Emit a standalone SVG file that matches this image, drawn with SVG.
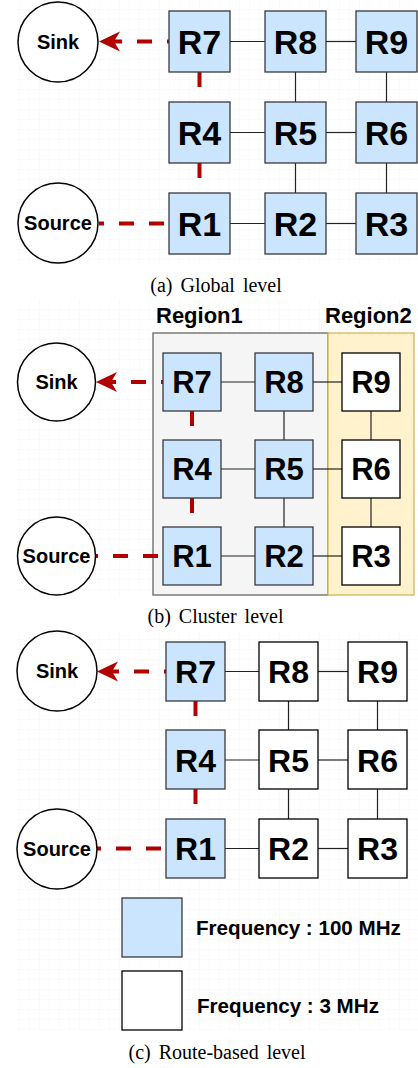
<svg xmlns="http://www.w3.org/2000/svg" width="418" height="1068" viewBox="0 0 418 1068">
<style>
.bg{fill:url(#grid)}
.nb{fill:#cce5ff;stroke:#36393d;stroke-width:1.3}
.nw{fill:#ffffff;stroke:#000000;stroke-width:1.3}
.circ{fill:#ffffff;stroke:#000000;stroke-width:1.5}
.lbl{font-family:"Liberation Sans",Arial,Helvetica,sans-serif;font-weight:bold;fill:#000;text-anchor:middle}
.big-a{font-size:34px}
.big-b{font-size:31px}
.big-c{font-size:32px}
.sm{font-size:20px}
.cap{font-family:"Liberation Serif","Times New Roman",serif;font-size:20px;fill:#000;text-anchor:middle;word-spacing:3px}
.ln{stroke:#222;stroke-width:1.2;fill:none}
.rd{stroke:#b20000;stroke-width:4;fill:none;stroke-dasharray:15 15}
.leg{font-family:"Liberation Sans",Arial,Helvetica,sans-serif;font-weight:bold;font-size:20.6px;fill:#000}
</style>
<defs>
<pattern id="grid" width="10" height="10" patternUnits="userSpaceOnUse">
<path d="M10 0 V10 M0 10 H10" stroke="#f4f4f4" stroke-width="1" fill="none"/>
</pattern>
<marker id="arr" markerUnits="userSpaceOnUse" markerWidth="22" markerHeight="22" viewBox="0 0 22 22" refX="6" refY="11" orient="auto">
<path d="M0,1 L21,11 L0,21 L6,11 Z" fill="#b20000"/>
</marker>
</defs>
<rect width="418" height="1068" fill="#ffffff"/>
<rect class="bg" x="17" y="0" width="401" height="265"/>
<rect class="bg" x="17" y="300" width="401" height="296"/>
<rect class="bg" x="17" y="630" width="401" height="400"/>

<!-- Panel (a) -->
<g id="connectors-a">
<line class="ln" x1="230" y1="41.5" x2="265" y2="41.5"/>
<line class="ln" x1="326" y1="41.5" x2="356" y2="41.5"/>
<line class="ln" x1="230" y1="132.5" x2="265" y2="132.5"/>
<line class="ln" x1="326" y1="132.5" x2="356" y2="132.5"/>
<line class="ln" x1="230" y1="223.5" x2="265" y2="223.5"/>
<line class="ln" x1="326" y1="223.5" x2="356" y2="223.5"/>
<line class="ln" x1="295.5" y1="72" x2="295.5" y2="102"/>
<line class="ln" x1="295.5" y1="163" x2="295.5" y2="193"/>
<line class="ln" x1="386.5" y1="72" x2="386.5" y2="102"/>
<line class="ln" x1="386.5" y1="163" x2="386.5" y2="193"/>
<line class="rd" x1="199.5" y1="72" x2="199.5" y2="102"/>
<line class="rd" x1="199.5" y1="163" x2="199.5" y2="193"/>
<line class="rd" x1="169" y1="223.5" x2="99" y2="223.5" stroke-dashoffset="-5"/>
<line class="rd" x1="169" y1="41.5" x2="114" y2="41.5" marker-end="url(#arr)" stroke-dashoffset="13"/>
</g>
<g id="a-sink"><circle class="circ" cx="58" cy="42" r="40"/><text class="lbl sm" x="58" y="49">Sink</text></g>
<g id="a-source"><circle class="circ" cx="58" cy="223" r="40"/><text class="lbl sm" x="58" y="230">Source</text></g>
<g id="a-R7"><rect class="nb" x="169" y="11" width="61" height="61"/><text class="lbl big-a" x="199.5" y="53.5">R7</text></g>
<g id="a-R8"><rect class="nb" x="265" y="11" width="61" height="61"/><text class="lbl big-a" x="295.5" y="53.5">R8</text></g>
<g id="a-R9"><rect class="nb" x="356" y="11" width="61" height="61"/><text class="lbl big-a" x="386.5" y="53.5">R9</text></g>
<g id="a-R4"><rect class="nb" x="169" y="102" width="61" height="61"/><text class="lbl big-a" x="199.5" y="144.5">R4</text></g>
<g id="a-R5"><rect class="nb" x="265" y="102" width="61" height="61"/><text class="lbl big-a" x="295.5" y="144.5">R5</text></g>
<g id="a-R6"><rect class="nb" x="356" y="102" width="61" height="61"/><text class="lbl big-a" x="386.5" y="144.5">R6</text></g>
<g id="a-R1"><rect class="nb" x="169" y="193" width="61" height="61"/><text class="lbl big-a" x="199.5" y="235.5">R1</text></g>
<g id="a-R2"><rect class="nb" x="265" y="193" width="61" height="61"/><text class="lbl big-a" x="295.5" y="235.5">R2</text></g>
<g id="a-R3"><rect class="nb" x="356" y="193" width="61" height="61"/><text class="lbl big-a" x="386.5" y="235.5">R3</text></g>
<text class="cap" x="216" y="292">(a) Global level</text>

<!-- Panel (b) -->
<g id="region1"><rect x="153" y="333" width="175" height="262" fill="#f5f5f5" stroke="#666666" stroke-width="1.3"/>
<text class="lbl" x="156" y="323" style="font-size:22px;text-anchor:start">Region1</text></g>
<g id="region2"><rect x="328" y="333" width="86" height="262" fill="#fff2cc" stroke="#d6b656" stroke-width="1.3"/>
<text class="lbl" x="325" y="323" style="font-size:22px;text-anchor:start">Region2</text></g>
<g id="connectors-b">
<line class="ln" x1="221" y1="382" x2="255" y2="382"/>
<line class="ln" x1="313" y1="382" x2="342" y2="382"/>
<line class="ln" x1="221" y1="469" x2="255" y2="469"/>
<line class="ln" x1="313" y1="469" x2="342" y2="469"/>
<line class="ln" x1="221" y1="556" x2="255" y2="556"/>
<line class="ln" x1="313" y1="556" x2="342" y2="556"/>
<line class="ln" x1="284" y1="411" x2="284" y2="440"/>
<line class="ln" x1="284" y1="498" x2="284" y2="527"/>
<line class="ln" x1="371" y1="411" x2="371" y2="440"/>
<line class="ln" x1="371" y1="498" x2="371" y2="527"/>
<line class="rd" x1="192" y1="411" x2="192" y2="440"/>
<line class="rd" x1="192" y1="498" x2="192" y2="527"/>
<line class="rd" x1="163" y1="556" x2="96" y2="556" stroke-dashoffset="-5"/>
<line class="rd" x1="163" y1="382" x2="111" y2="382" marker-end="url(#arr)" stroke-dashoffset="13"/>
</g>
<g id="b-sink"><circle class="circ" cx="56.5" cy="382" r="39"/><text class="lbl sm" x="56.5" y="389">Sink</text></g>
<g id="b-source"><circle class="circ" cx="56.5" cy="556" r="39"/><text class="lbl sm" x="56.5" y="563">Source</text></g>
<g id="b-R7"><rect class="nb" x="163" y="353" width="58" height="58"/><text class="lbl big-b" x="192" y="393">R7</text></g>
<g id="b-R8"><rect class="nb" x="255" y="353" width="58" height="58"/><text class="lbl big-b" x="284" y="393">R8</text></g>
<g id="b-R9"><rect class="nw" x="342" y="353" width="58" height="58"/><text class="lbl big-b" x="371" y="393">R9</text></g>
<g id="b-R4"><rect class="nb" x="163" y="440" width="58" height="58"/><text class="lbl big-b" x="192" y="480">R4</text></g>
<g id="b-R5"><rect class="nb" x="255" y="440" width="58" height="58"/><text class="lbl big-b" x="284" y="480">R5</text></g>
<g id="b-R6"><rect class="nw" x="342" y="440" width="58" height="58"/><text class="lbl big-b" x="371" y="480">R6</text></g>
<g id="b-R1"><rect class="nb" x="163" y="527" width="58" height="58"/><text class="lbl big-b" x="192" y="567">R1</text></g>
<g id="b-R2"><rect class="nb" x="255" y="527" width="58" height="58"/><text class="lbl big-b" x="284" y="567">R2</text></g>
<g id="b-R3"><rect class="nw" x="342" y="527" width="58" height="58"/><text class="lbl big-b" x="371" y="567">R3</text></g>
<text class="cap" x="215.5" y="623">(b) Cluster level</text>

<!-- Panel (c) -->
<g id="connectors-c">
<line class="ln" x1="225" y1="671.5" x2="259" y2="671.5"/>
<line class="ln" x1="318" y1="671.5" x2="348" y2="671.5"/>
<line class="ln" x1="225" y1="760" x2="259" y2="760"/>
<line class="ln" x1="318" y1="760" x2="348" y2="760"/>
<line class="ln" x1="225" y1="848.5" x2="259" y2="848.5"/>
<line class="ln" x1="318" y1="848.5" x2="348" y2="848.5"/>
<line class="ln" x1="288.5" y1="701" x2="288.5" y2="730"/>
<line class="ln" x1="288.5" y1="789" x2="288.5" y2="819"/>
<line class="ln" x1="377.5" y1="701" x2="377.5" y2="730"/>
<line class="ln" x1="377.5" y1="789" x2="377.5" y2="819"/>
<line class="rd" x1="195.5" y1="701" x2="195.5" y2="730"/>
<line class="rd" x1="195.5" y1="789" x2="195.5" y2="819"/>
<line class="rd" x1="166" y1="848.5" x2="97" y2="848.5" stroke-dashoffset="-5"/>
<line class="rd" x1="166" y1="671.5" x2="112" y2="671.5" marker-end="url(#arr)" stroke-dashoffset="13"/>
</g>
<g id="c-sink"><circle class="circ" cx="57" cy="671" r="40"/><text class="lbl sm" x="57" y="678">Sink</text></g>
<g id="c-source"><circle class="circ" cx="57" cy="849" r="40"/><text class="lbl sm" x="57" y="856">Source</text></g>
<g id="c-R7"><rect class="nb" x="166" y="642" width="59" height="59"/><text class="lbl big-c" x="195.5" y="683">R7</text></g>
<g id="c-R8"><rect class="nw" x="259" y="642" width="59" height="59"/><text class="lbl big-c" x="288.5" y="683">R8</text></g>
<g id="c-R9"><rect class="nw" x="348" y="642" width="59" height="59"/><text class="lbl big-c" x="377.5" y="683">R9</text></g>
<g id="c-R4"><rect class="nb" x="166" y="730" width="59" height="59"/><text class="lbl big-c" x="195.5" y="771.5">R4</text></g>
<g id="c-R5"><rect class="nw" x="259" y="730" width="59" height="59"/><text class="lbl big-c" x="288.5" y="771.5">R5</text></g>
<g id="c-R6"><rect class="nw" x="348" y="730" width="59" height="59"/><text class="lbl big-c" x="377.5" y="771.5">R6</text></g>
<g id="c-R1"><rect class="nb" x="166" y="819" width="59" height="59"/><text class="lbl big-c" x="195.5" y="860">R1</text></g>
<g id="c-R2"><rect class="nw" x="259" y="819" width="59" height="59"/><text class="lbl big-c" x="288.5" y="860">R2</text></g>
<g id="c-R3"><rect class="nw" x="348" y="819" width="59" height="59"/><text class="lbl big-c" x="377.5" y="860">R3</text></g>

<g id="legend-100"><rect class="nb" x="122" y="898" width="60" height="59"/><text class="leg" x="196" y="935">Frequency : 100 MHz</text></g>
<g id="legend-3"><rect class="nw" x="122" y="971" width="60" height="59"/><text class="leg" x="197" y="1013">Frequency : 3 MHz</text></g>
<text class="cap" x="217" y="1059">(c) Route-based level</text>
</svg>
